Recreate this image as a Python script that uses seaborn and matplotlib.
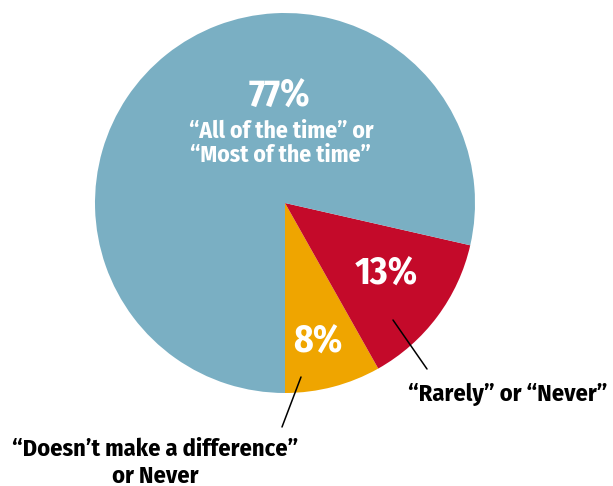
import matplotlib
matplotlib.use("Agg")
import matplotlib.pyplot as plt
import seaborn as sns

# slice data, drawn counter-clockwise starting at the bottom
labels = ["8%", "13%", "77%"]
values = [8, 13, 77]
colors = ["#EFA500", "#C40A2A", "#7AAFC3"]
inside_text = ["\u201cAll of the time\u201d or", "\u201cMost of the time\u201d"]
red_label = "\u201cRarely\u201d or \u201cNever\u201d"
yellow_label = ["\u201cDoesn\u2019t make a difference\u201d", "or Never"]

sns.set_theme(style="white")
plt.rcParams['font.family'] = ['Fira Sans Condensed', 'Roboto Condensed', 'DejaVu Sans']
plt.rcParams['font.weight'] = 'bold'

W, H = 613, 486
fig = plt.figure(figsize=(W / 100, H / 100), dpi=100)
ax = fig.add_axes([0, 0, 1, 1])

# pie laid out in pixel units (y flipped so the top of the image is H)
cx, cy, r = 285, H - 203, 190
ax.pie(values, colors=colors, startangle=-90, counterclock=True,
       center=(cx, cy), radius=r, frame=True,
       wedgeprops=dict(linewidth=0))
ax.set_xlim(0, W)
ax.set_ylim(0, H)
ax.set_aspect('equal')
ax.axis('off')

big = dict(color='white', fontsize=27, fontweight='bold', ha='center', va='baseline')
small_w = dict(color='white', fontsize=17, fontweight='bold', ha='center', va='baseline')
small_k = dict(color='black', fontsize=17.5, fontweight='bold', ha='center', va='baseline')

ax.text(279, H - 106.5, labels[2], **big)
ax.text(281, H - 138.3, inside_text[0], **small_w)
ax.text(280, H - 161.7, inside_text[1], **small_w)
ax.text(386, H - 285, labels[1], **big)
ax.text(318, H - 352.5, labels[0], **big)

# leader lines and outside labels
ax.plot([393, 427], [H - 320, H - 369], color='black', lw=1.1)
ax.text(508, H - 401.5, red_label, **small_k)
ax.plot([301, 282], [H - 377, H - 427], color='black', lw=1.1)
ax.text(155, H - 456, yellow_label[0], **small_k)
ax.text(155, H - 482.5, yellow_label[1], **small_k)

fig.savefig("out.png", dpi=100)
